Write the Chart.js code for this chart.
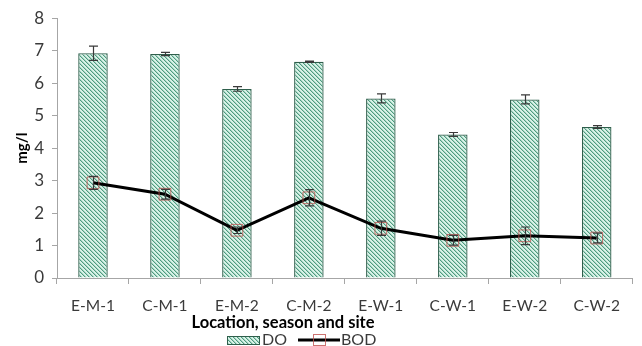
<!DOCTYPE html>
<html>
<head>
<meta charset="utf-8">
<script src="https://cdn.jsdelivr.net/npm/chart.js@4"></script>
<style>
  html, body { margin: 0; padding: 0; background: #fff; }
  #wrap { width: 642px; height: 346px; position: relative; }
  canvas { display: block; }
</style>
</head>
<body>
<div id="wrap"><canvas id="c" width="642" height="346"></canvas></div>
<script>
// Dissolved oxygen (DO) and biochemical oxygen demand (BOD), mg/l
const categories = ['E-M-1', 'C-M-1', 'E-M-2', 'C-M-2', 'E-W-1', 'C-W-1', 'E-W-2', 'C-W-2'];
const doValues   = [6.92, 6.90, 5.82, 6.66, 5.53, 4.42, 5.50, 4.65];
const doErrors   = [0.22, 0.05, 0.07, 0.02, 0.14, 0.06, 0.14, 0.04];
const bodValues  = [2.93, 2.58, 1.47, 2.47, 1.53, 1.16, 1.30, 1.23];
const bodErrors  = [0.20, 0.15, 0.10, 0.25, 0.22, 0.15, 0.27, 0.15];
const yTicks     = [0, 1, 2, 3, 4, 5, 6, 7, 8];

const FONT = 'Lato, "Liberation Sans", sans-serif';
const AXIS = '#a6a6a6';
const TEXT = '#3a3a3a';
const MARKER = 'rgba(192, 80, 77, 0.8)';

// diagonal hatch fill for the DO bars
function makeHatch() {
  const t = document.createElement('canvas');
  t.width = 4; t.height = 4;
  const g = t.getContext('2d');
  g.fillStyle = '#d9f2e8';
  g.fillRect(0, 0, 4, 4);
  for (let i = 0; i < 4; i++) {
    g.fillStyle = '#4e9a7f';
    g.fillRect(i, i, 1, 1);
    g.fillStyle = '#a6d5c2';
    g.fillRect((i + 1) % 4, i, 1, 1);
  }
  return g.createPattern(t, 'repeat');
}
const hatch = makeHatch();

// error bars drawn from the value and error arrays via the y scale
const errorBars = {
  id: 'errorBars',
  afterDatasetsDraw(chart) {
    const ctx = chart.ctx;
    const y = chart.scales.y;
    const sets = [[0, doValues, doErrors], [1, bodValues, bodErrors]];
    ctx.save();
    ctx.strokeStyle = '#3a3a3a';
    ctx.lineWidth = 1.2;
    sets.forEach(([idx, vals, errs]) => {
      const meta = chart.getDatasetMeta(idx);
      meta.data.forEach((el, i) => {
        const x = Math.round(el.x) + 0.5;
        const top = y.getPixelForValue(vals[i] + errs[i]);
        const bot = y.getPixelForValue(vals[i] - errs[i]);
        ctx.beginPath();
        ctx.moveTo(x, top); ctx.lineTo(x, bot);
        ctx.moveTo(x - 4.5, top); ctx.lineTo(x + 4.5, top);
        ctx.moveTo(x - 4.5, bot); ctx.lineTo(x + 4.5, bot);
        ctx.stroke();
      });
    });
    ctx.restore();
  }
};

// x-axis title and legend below the plot
const footer = {
  id: 'footer',
  afterDraw(chart) {
    const ctx = chart.ctx;
    ctx.save();
    ctx.fillStyle = '#000';
    ctx.textBaseline = 'middle';
    ctx.textAlign = 'center';
    ctx.font = 'bold 16.5px ' + FONT;
    ctx.fillText('Location, season and site', 283, 323);

    // DO swatch
    ctx.fillStyle = hatch;
    ctx.fillRect(227, 336, 33, 9);
    ctx.strokeStyle = '#2f5f4c';
    ctx.lineWidth = 1;
    ctx.strokeRect(227.5, 336.5, 32, 8);
    ctx.fillStyle = TEXT;
    ctx.textAlign = 'left';
    ctx.font = '16px ' + FONT;
    ctx.fillText('DO', 262, 340);

    // BOD line + marker
    ctx.strokeStyle = '#000';
    ctx.lineWidth = 3;
    ctx.beginPath();
    ctx.moveTo(298, 340); ctx.lineTo(340, 340);
    ctx.stroke();
    ctx.strokeStyle = MARKER;
    ctx.lineWidth = 1;
    ctx.strokeRect(313.5, 334.5, 12, 11);
    ctx.fillStyle = TEXT;
    ctx.fillText('BOD', 341, 340);
    ctx.restore();
  }
};

new Chart(document.getElementById('c'), {
  data: {
    labels: categories,
    datasets: [
      {
        type: 'bar',
        label: 'DO',
        data: doValues,
        backgroundColor: hatch,
        borderColor: '#2f5f4c',
        borderWidth: 1.3,
        borderSkipped: 'bottom',
        categoryPercentage: 1,
        barPercentage: 0.41,
        order: 2
      },
      {
        type: 'line',
        label: 'BOD',
        data: bodValues,
        borderColor: '#000',
        borderWidth: 3,
        tension: 0,
        pointStyle: 'rect',
        pointRadius: 8.3,
        pointBorderColor: MARKER,
        pointBackgroundColor: 'rgba(0,0,0,0)',
        pointBorderWidth: 1,
        order: 1
      }
    ]
  },
  options: {
    responsive: false,
    animation: false,
    devicePixelRatio: 1,
    layout: { padding: { top: 16, right: 4, left: 0, bottom: 0 } },
    plugins: { legend: { display: false }, tooltip: { enabled: false } },
    scales: {
      x: {
        grid: { display: true, drawOnChartArea: false, drawTicks: true, tickLength: 6, color: AXIS, offset: true },
        border: { color: AXIS, width: 1 },
        ticks: { font: { family: FONT, size: 15.5 }, color: TEXT, padding: 13, maxRotation: 0, autoSkip: false },
        afterFit(s) { s.height = 68; }
      },
      y: {
        min: 0,
        max: 8,
        afterBuildTicks(s) { s.ticks = yTicks.map(v => ({ value: v })); },
        grid: { display: true, drawOnChartArea: false, drawTicks: true, tickLength: 5, color: AXIS },
        border: { color: AXIS, width: 1 },
        ticks: { font: { family: FONT, size: 17 }, color: TEXT, padding: 8, autoSkip: false },
        title: { display: true, text: 'mg/l', color: '#000', font: { family: FONT, size: 15, weight: 'bold' }, padding: { top: 13, bottom: 0 } },
        afterFit(s) { s.width = 57; }
      }
    }
  },
  plugins: [errorBars, footer]
});
</script>
</body>
</html>
